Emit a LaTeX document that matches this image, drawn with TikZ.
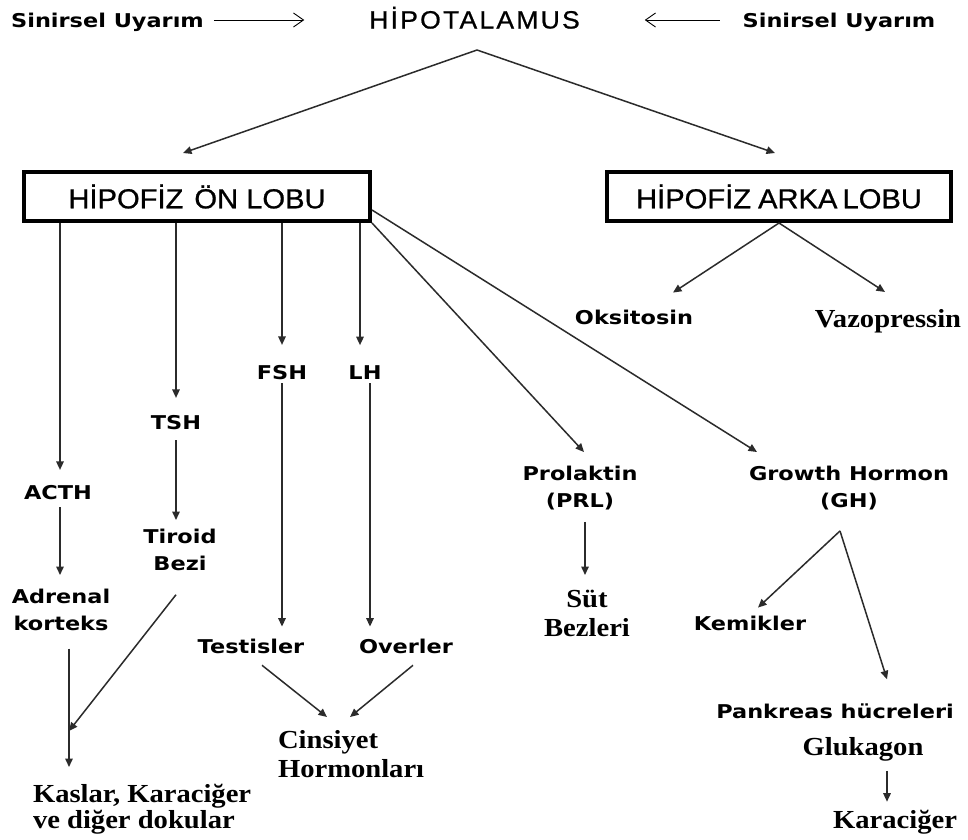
\documentclass[tikz,border=0pt]{standalone}
\usepackage{fontspec}
\usetikzlibrary{arrows.meta,calc}
\newfontfamily\vsans{DejaVu Sans}[FakeStretch=1.18]
\newfontfamily\asans{Liberation Sans}[FakeStretch=1.06, FakeBold=0.8]
\newfontfamily\tserif{Liberation Serif}[FakeStretch=1.1]
\definecolor{linkgray}{HTML}{2B2B2B}

\begin{document}
\begin{tikzpicture}[x=1pt,y=-1pt,
  lab/.style={font=\vsans\bfseries\fontsize{19}{27}\selectfont, inner sep=0pt, outer sep=0pt, align=center},
  ser/.style={font=\tserif\bfseries\fontsize{26}{29}\selectfont, inner sep=0pt, outer sep=0pt, align=center},
  lobe/.style={draw, line width=4pt, minimum width=346pt, minimum height=49pt, inner sep=0pt,
    font=\asans\fontsize{27.5}{30}\selectfont},
  link/.style={draw=linkgray, line width=1.5pt, -{Triangle[length=8.5pt,width=7.5pt]}},
  cue/.style={draw=black, line width=0.9pt, -{Straight Barb[length=10pt,width=14pt,line width=0.9pt]}},
]
\useasboundingbox (0,0) rectangle (968,839);
\fill[white] (0,0) rectangle (968,839);

% top row
\node[lab, anchor=base] (sinl) at (107.5,27) {Sinirsel Uyarım};
\node[lab, anchor=base] (sinr) at (839,27) {Sinirsel Uyarım};
\node[anchor=base, inner sep=0pt, outer sep=0pt,
  font=\asans\fontsize{25}{28}\selectfont\addfontfeature{LetterSpace=9}] (hipo) at (474.5,28.5) {HİPOTALAMUS};

% pituitary lobes
\node[lobe] (on) at (197,196.5) {HİPOFİZ\hspace{11pt}ÖN LOBU};
\node[lobe, minimum width=344pt] (arka) at (779,196.5) {HİPOFİZ\hspace{7pt}ARKA\hspace{-3pt} LOBU};

% hormones and targets
\node[lab, anchor=base] (oksi) at (634,324) {Oksitosin};
\node[ser, anchor=base] (vazo) at (888,327) {Vazopressin};
\node[lab, anchor=base] (fsh) at (282,379) {FSH};
\node[lab, anchor=base] (lh) at (365,379) {LH};
\node[lab, anchor=base] (tsh) at (176,429) {TSH};
\node[lab, anchor=base] (acth) at (58,499) {ACTH};
\node[lab, anchor=north] (adrenal) at (61,589) {Adrenal\\korteks};
\node[lab, anchor=north] (tiroid) at (180,529) {Tiroid\\Bezi};
\node[lab, anchor=north] (prl) at (580,466) {Prolaktin\\(PRL)};
\node[lab, anchor=north] (gh) at (849,466) {Growth Hormon\\(GH)};
\node[ser, anchor=north] (sut) at (587,590) {Süt\\Bezleri};
\node[lab, anchor=base] (testis) at (251,653) {Testisler};
\node[lab, anchor=base] (over) at (406,653) {Overler};
\node[ser, anchor=north west, align=left] (cins) at (278,730) {Cinsiyet\\Hormonları};
\node[ser, anchor=north west, align=left, font=\tserif\bfseries\fontsize{26}{26.5}\selectfont] (kaslar) at (33,784) {Kaslar, Karaciğer\\ve diğer dokular};
\node[lab, anchor=base] (kemik) at (750,630) {Kemikler};
\node[lab, anchor=base] (pank) at (835,718) {Pankreas hücreleri};
\node[ser, anchor=base] (gluk) at (863,755) {Glukagon};
\node[ser, anchor=base] (karac) at (895,828) {Karaciğer};

% branching points
\coordinate (top) at (477,50);
\coordinate (ghfork) at ($(gh.south)+(-9,21)$);
\coordinate (merge) at (69,731);

% nervous input
\draw[cue] ($(sinl.base east)+(10,-7)$) -- ($(sinl.base east -| hipo.west)+(-65,-7)$);
\draw[cue] ($(sinr.base west)+(-23,-7)$) -- ($(sinr.base west -| hipo.east)+(65,-7)$);

% hypothalamus to lobes
\draw[link] (top) -- ($(on.north)+(-14,-17)$);
\draw[link] (top) -- ($(arka.north)+(-4,-17)$);

% anterior lobe
\draw[link, shorten >=15pt] ($(on.south -| acth)+(2,0)$) -- ($(acth.north)+(2,0)$);
\draw[link, shorten >=17pt] (on.south -| tsh) -- (tsh.north);
\draw[link, shorten >=20pt] (on.south -| fsh) -- (fsh.north);
\draw[link, shorten >=20pt] ($(on.south -| lh)+(-5,0)$) -- ($(lh.north)+(-5,0)$);
\draw[link] (on.south east) -- ($(prl.north)+(4,-14)$);
\draw[link] ($(on.south east)+(0,-13)$) -- ($(gh.north)+(-92,-14)$);

\draw[link, shorten <=8pt, shorten >=14pt] ($(acth.south)+(2,0)$) -- ($(acth.south |- adrenal.north)+(2,0)$);
\draw[link, shorten <=18pt, shorten >=17pt] (adrenal.south -| merge) -- (kaslar.north -| merge);
\draw[link, shorten <=11pt, shorten >=9pt] (tsh.south) -- (tsh.south |- tiroid.north);
\draw[link] ($(tiroid.south)+(-4,24)$) -- (merge);

\draw[link, shorten <=4pt, shorten >=12pt] (fsh.south) -- (fsh.south |- testis.north);
\draw[link, shorten <=4pt, shorten >=12pt] ($(lh.south)+(5,0)$) -- ($(lh.south |- over.north)+(5,0)$);
\draw[link] ($(testis.south)+(11,12)$) -- ($(cins.north west)+(49,-13)$);
\draw[link] ($(over.south)+(7,12)$) -- ($(cins.north west)+(72,-13)$);

\draw[link, shorten <=12pt, shorten >=15pt] ($(prl.south)+(5,0)$) -- ($(prl.south |- sut.north)+(5,0)$);

\draw[link] (ghfork) -- ($(kemik.north)+(8,-8)$);
\draw[link] (ghfork) -- ($(pank.north)+(52,-24)$);
\draw[link, shorten <=10pt, shorten >=8pt] ($(gluk.south)+(24,0)$) -- ($(karac.north)+(-8,0)$);

% posterior lobe
\draw[link] (arka.south) -- ($(oksi.north)+(39,-17)$);
\draw[link] (arka.south) -- ($(vazo.north)+(-3,-17)$);
\end{tikzpicture}
\end{document}
